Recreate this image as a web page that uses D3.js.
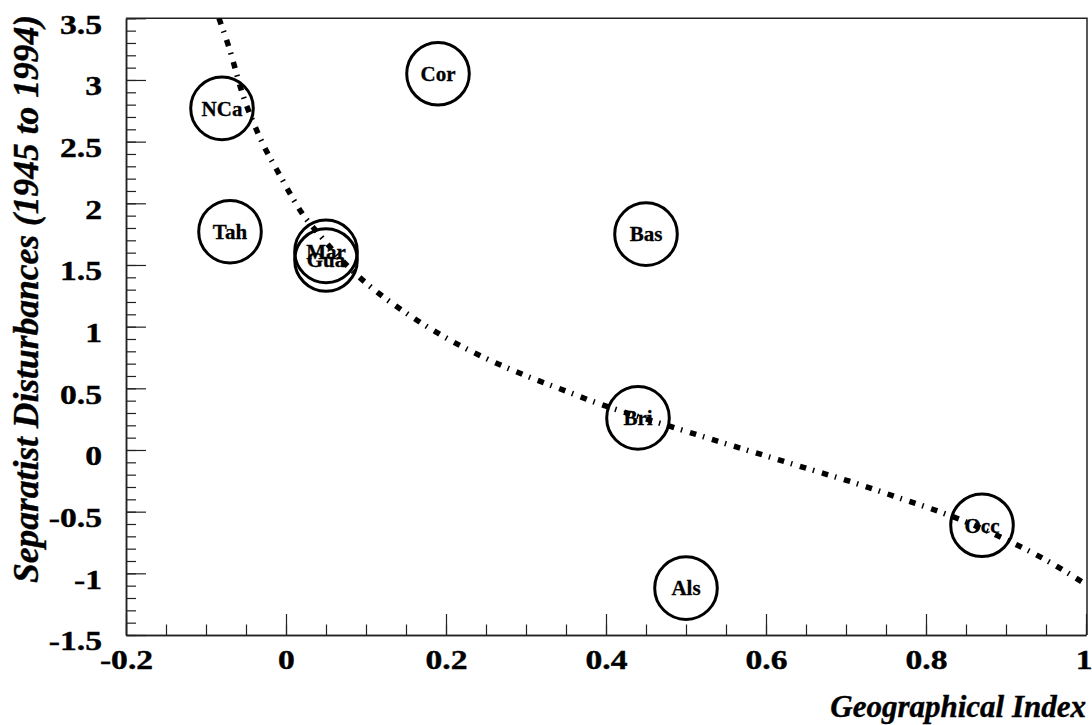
<!DOCTYPE html>
<html>
<head>
<meta charset="utf-8">
<script src="https://cdn.jsdelivr.net/npm/d3@7"></script>
<style>
  html, body { margin: 0; padding: 0; background: #fff; }
  svg { display: block; }
  text { font-family: "Liberation Serif", "Times New Roman", serif; font-weight: bold; fill: #000; }
</style>
</head>
<body>
<svg id="chart" width="1092" height="725"></svg>
<script>
// ---- data ----
const regions = ["NCa", "Cor", "Tah", "Mar", "Gua", "Bas", "Bri", "Occ", "Als"];
const geoIndex = [-0.08, 0.19, -0.07, 0.05, 0.05, 0.45, 0.44, 0.87, 0.50];
const disturbances = [2.77, 3.05, 1.77, 1.61, 1.54, 1.75, 0.26, -0.61, -1.12];

// fitted curve
const fitX = [-0.0838, -0.0709, -0.0546, -0.0341, -0.0066, 0.0216, 0.0404, 0.08, 0.1216, 0.1466, 0.1954, 0.2459, 0.2988, 0.3521, 0.3791, 0.4884, 0.5425, 0.5979, 0.6529, 0.7079, 0.7625, 0.8175, 0.8446, 0.8966, 0.9466, 1.0];
const fitY = [3.50, 3.257, 2.892, 2.554, 2.215, 1.905, 1.756, 1.472, 1.242, 1.126, 0.926, 0.755, 0.605, 0.472, 0.404, 0.175, 0.066, -0.044, -0.153, -0.261, -0.380, -0.502, -0.569, -0.717, -0.880, -1.09];

const xTicks = [-0.2, 0, 0.2, 0.4, 0.6, 0.8, 1];
const yTicks = [-1.5, -1, -0.5, 0, 0.5, 1, 1.5, 2, 2.5, 3, 3.5];
const xTitle = "Geographical Index";
const yTitle = "Separatist Disturbances (1945 to 1994)";

// ---- layout ----
const svg = d3.select("#chart");
const L = 126, R = 1086, T = 18.3, B = 635;
const x = d3.scaleLinear().domain([-0.2, 1]).range([L, R]);
const y = d3.scaleLinear().domain([-1.5, 3.5]).range([B, T]);

const axisColor = "#222";
const labelStretch = 1.2;

// minor ticks
const xMinor = d3.range(-0.2, 1.0001, 0.05).map(v => +v.toFixed(2));
const yMinor = d3.range(-1.5, 3.5001, 0.1).map(v => +v.toFixed(1));

const gxMinor = svg.append("g").attr("transform", `translate(0,${B})`)
  .call(d3.axisBottom(x).tickValues(xMinor).tickSize(-10.5).tickSizeOuter(0).tickFormat(""));
const gyMinor = svg.append("g").attr("transform", `translate(${L},0)`)
  .call(d3.axisLeft(y).tickValues(yMinor).tickSize(-10).tickSizeOuter(0).tickFormat(""));

const gx = svg.append("g").attr("transform", `translate(0,${B})`)
  .call(d3.axisBottom(x).tickValues(xTicks).tickSize(-21).tickSizeOuter(0).tickPadding(14)
    .tickFormat(d => String(d)));
const gy = svg.append("g").attr("transform", `translate(${L},0)`)
  .call(d3.axisLeft(y).tickValues(yTicks).tickSize(-20).tickSizeOuter(0).tickPadding(24)
    .tickFormat(d => String(d)));

[gxMinor, gyMinor, gx, gy].forEach(g => {
  g.selectAll("line").attr("stroke", axisColor).attr("stroke-width", 1.2);
  g.select(".domain").attr("stroke", axisColor).attr("stroke-width", 1.5);
});
[gx, gy].forEach(g => {
  g.selectAll("text").attr("font-size", 28)
    .attr("font-family", '"Liberation Serif", "Times New Roman", serif')
    .attr("font-weight", "bold").attr("fill", "#000")
    .attr("stroke", "#000").attr("stroke-width", 0.4)
    .attr("transform", `scale(${labelStretch},1)`);
});
gy.selectAll("text").attr("x", -24 / labelStretch).attr("y", 6);
gx.selectAll("text").filter(d => d === 1).attr("x", -2);

// frame (top & right)
svg.append("path")
  .attr("d", `M${L},${T}H${R + 1}V${B}`)
  .attr("fill", "none").attr("stroke", axisColor).attr("stroke-width", 1.5);

// clip
svg.append("clipPath").attr("id", "frame")
  .append("rect").attr("x", L).attr("y", T).attr("width", R - L + 1).attr("height", B - T);

// curve
const fitData = fitX.map((v, i) => [v, fitY[i]]);
svg.append("path")
  .datum(fitData)
  .attr("clip-path", "url(#frame)")
  .attr("d", d3.line().x(d => x(d[0])).y(d => y(d[1])).curve(d3.curveMonotoneX))
  .attr("fill", "none")
  .attr("stroke", "#000")
  .attr("stroke-width", 5.5)
  .attr("stroke-dasharray", "6.5,7,1.5,8");

// points
const pts = regions.map((r, i) => ({ name: r, gx: geoIndex[i], d: disturbances[i] }));
const gp = svg.append("g");
gp.selectAll("circle").data(pts).join("circle")
  .attr("cx", d => x(d.gx)).attr("cy", d => y(d.d))
  .attr("r", 31.3)
  .attr("fill", "none").attr("stroke", "#000").attr("stroke-width", 3);
gp.selectAll("text").data(pts).join("text")
  .attr("x", d => x(d.gx)).attr("y", d => y(d.d))
  .attr("dy", "0.35em")
  .attr("text-anchor", "middle")
  .attr("font-size", 21)
  .attr("stroke", "#000").attr("stroke-width", 0.3)
  .text(d => d.name);

// axis titles
svg.append("text")
  .attr("x", R).attr("y", 717)
  .attr("text-anchor", "end")
  .attr("font-size", 31).attr("font-style", "italic")
  .attr("stroke", "#000").attr("stroke-width", 0.4)
  .text(xTitle);

svg.append("text")
  .attr("transform", `translate(38,15) rotate(-90)`)
  .attr("text-anchor", "end")
  .attr("font-size", 35.5).attr("font-style", "italic")
  .attr("stroke", "#000").attr("stroke-width", 0.4)
  .text(yTitle);
</script>
</body>
</html>
